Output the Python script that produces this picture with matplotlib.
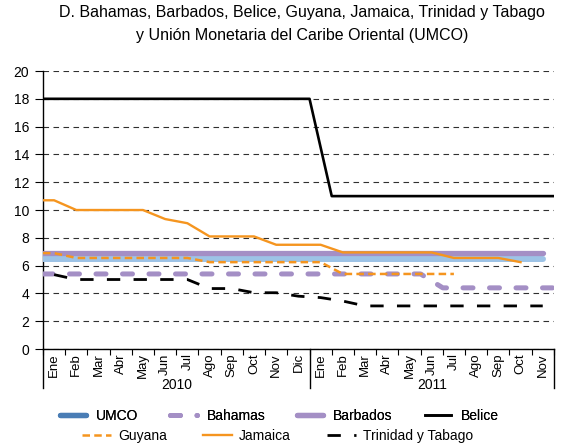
import numpy as np
import matplotlib
matplotlib.use("Agg")
import matplotlib.pyplot as plt
from matplotlib.lines import Line2D
import matplotlib.transforms as mtransforms

plt.rcParams['font.family'] = ['Liberation Sans', 'DejaVu Sans']

# ---------------- datos ----------------
meses = ["Ene", "Feb", "Mar", "Abr", "May", "Jun", "Jul", "Ago", "Sep", "Oct", "Nov", "Dic",
         "Ene", "Feb", "Mar", "Abr", "May", "Jun", "Jul", "Ago", "Sep", "Oct", "Nov"]
anios = ["2010", "2011"]
meses_por_anio = [12, 11]

nan = np.nan
# series mensuales (mitad de mes)
umco = [6.5] * 23
barbados = [6.9] * 23
jamaica = [10.7, 10.0, 10.0, 10.0, 10.0, 9.35, 9.05, 8.1, 8.1, 8.1, 7.5, 7.5,
           7.5, 6.95, 6.95, 6.95, 6.95, 6.95, 6.55, 6.55, 6.55, 6.25, nan]
guyana = [6.9, 6.55, 6.55, 6.55, 6.55, 6.55, 6.55, 6.25, 6.25, 6.25, 6.25, 6.25,
          6.25, 5.4, 5.4, 5.4, 5.4, 5.4, 5.4, nan, nan, nan, nan]
trinidad = [5.35, 5.0, 5.0, 5.0, 5.0, 5.0, 5.0, 4.35, 4.35, 4.05, 4.05, 3.8,
            3.7, 3.45, 3.1, 3.1, 3.1, 3.1, 3.1, 3.1, 3.1, 3.1, 3.1]
# series a inicio de mes (incluye dic 2011)
bahamas = [5.4] * 18 + [4.4] * 6
belice = [18.0] * 13 + [11.0] * 11

azul_claro = "#9DC3E6"
azul = "#4A7DB5"
lila = "#A48FC5"
naranja = "#F5951F"

fig = plt.figure(figsize=(5.62, 4.45), dpi=100)
ax = fig.add_axes([0.0765, 0.2157, 0.909, 0.6247])

n = len(meses)
centros = np.arange(n)
bordes = np.arange(n + 1) - 0.5


def mensual(v, desde_borde=True):
    v = np.asarray(v, dtype=float)
    if desde_borde:
        return np.r_[-0.5, centros], np.r_[v[0], v]
    return centros, v


x, y = mensual(umco)
ax.plot(x, y, color=azul_claro, lw=4.3, solid_capstyle="round", zorder=3)
ax.plot(bordes, bahamas, color=lila, lw=3.6, dashes=(2.0, 3.3), dash_capstyle="round", zorder=3)
x, y = mensual(barbados)
ax.plot(x, y, color=lila, lw=3.8, solid_capstyle="round", zorder=4)
ax.plot(bordes, belice, color="black", lw=1.9, zorder=5)
x, y = mensual(guyana)
ax.plot(x, y, color=naranja, lw=1.8, dashes=(3.0, 1.7), zorder=5)
x, y = mensual(jamaica)
ax.plot(x, y, color=naranja, lw=1.7, zorder=6)
x, y = mensual(trinidad, desde_borde=False)
ax.plot(x, y, color="black", lw=2.0, dashes=(4.8, 4.8), zorder=6)

# ejes
ax.set_xlim(-0.5, n - 0.5)
ax.set_ylim(0, 20)
ax.set_yticks(np.arange(0, 21, 2))
ax.yaxis.grid(True, color="#303030", lw=0.8, ls=(0, (5, 4)))
ax.set_axisbelow(True)
for s in ["top", "right"]:
    ax.spines[s].set_visible(False)
ax.spines["left"].set_linewidth(1.0)
ax.spines["bottom"].set_linewidth(1.0)
ax.tick_params(axis="y", length=6, width=0.8, pad=4, labelsize=10)

ax.set_xticks(centros)
ax.set_xticklabels(meses, rotation=90, fontsize=9.5)
ax.tick_params(axis="x", length=0, pad=3)
ax.set_xticks(bordes, minor=True)
ax.tick_params(axis="x", which="minor", length=4, width=0.8)

# separadores de anio y etiquetas
trans = mtransforms.blended_transform_factory(ax.transData, ax.transAxes)
cortes = np.r_[0, np.cumsum(meses_por_anio)] - 0.5
for c in cortes:
    ax.add_line(Line2D([c, c], [0, -0.14], transform=trans, color="black", lw=1.0, clip_on=False))
for i, a in enumerate(anios):
    ax.text((cortes[i] + cortes[i + 1]) / 2, -0.103, a, transform=trans,
            ha="center", va="top", fontsize=10)

fig.text(0.538, 0.988, "D. Bahamas, Barbados, Belice, Guyana, Jamaica, Trinidad y Tabago\n"
         "y Unión Monetaria del Caribe Oriental (UMCO)",
         ha="center", va="top", fontsize=11.5, linespacing=1.6)

# leyenda
h1 = [Line2D([], [], color=azul, lw=3.8, solid_capstyle="round"),
      Line2D([], [], color=lila, lw=3.6, dashes=(2.0, 3.3), dash_capstyle="round"),
      Line2D([], [], color=lila, lw=3.8, solid_capstyle="round"),
      Line2D([], [], color="black", lw=1.9)]
l1 = fig.legend(h1, ["UMCO", "Bahamas", "Barbados", "Belice"], ncol=4,
                loc="center", bbox_to_anchor=(0.497, 0.066), frameon=False, fontsize=10,
                handlelength=1.9, handletextpad=0.7, columnspacing=2.3)
h2 = [Line2D([], [], color=naranja, lw=1.8, dashes=(3.0, 1.7)),
      Line2D([], [], color=naranja, lw=1.7),
      Line2D([], [], color="black", lw=2.0, dashes=(4.8, 4.8))]
fig.legend(h2, ["Guyana", "Jamaica", "Trinidad y Tabago"], ncol=3,
           loc="center", bbox_to_anchor=(0.494, 0.02), frameon=False, fontsize=10,
           handlelength=2.1, handletextpad=0.5, columnspacing=2.6,
           borderpad=0.2)
fig.add_artist(l1)

fig.savefig("out.png", dpi=100)
